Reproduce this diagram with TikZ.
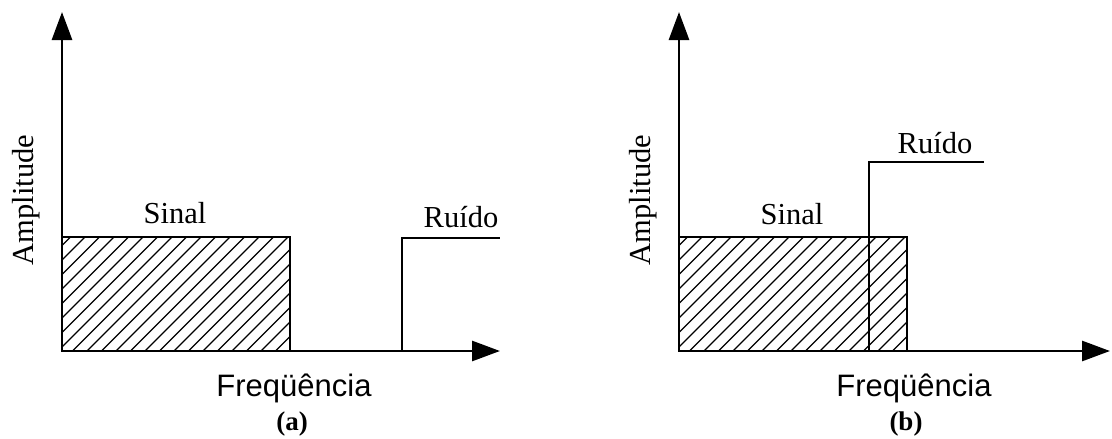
\documentclass[tikz,border=0pt]{standalone}
\usepackage{fontspec}
\setmainfont{Liberation Serif}
\newfontfamily\arialfont{Liberation Sans}
\usetikzlibrary{arrows.meta}
\begin{document}
\begin{tikzpicture}[x=1pt,y=-1pt,
  axis/.style={line width=2.8pt, -{Triangle[length=28pt,width=20pt]}},
  edge/.style={line width=2.6pt},
  hatchline/.style={line width=1.3pt},
  lbl/.style={font=\fontsize{30.5}{36}\selectfont, anchor=base, inner sep=0pt},
  sanslbl/.style={font=\arialfont\fontsize{31}{36}\selectfont, anchor=base, inner sep=0pt},
  captionlbl/.style={font=\bfseries\fontsize{27}{32}\selectfont, anchor=base, inner sep=0pt}]
\useasboundingbox (0,0) rectangle (1112,439);

% ---------- panel (a) ----------
\coordinate (oa) at (62,351);
\coordinate (ya) at (62,12);
\coordinate (xa) at (500,351);
\begin{scope}
  \clip (62,237) rectangle (290,351);
  \foreach \i in {0,...,25} \draw[hatchline] (62-120+\i*14.5,351) -- ++(130,-130);
\end{scope}
\draw[edge] (62,237) rectangle (290,351);
\coordinate (na0) at (402,351);
\coordinate (na1) at (402,238);
\coordinate (na2) at (500,238);
\draw[edge] (na0) -- (na1) -- (na2);
\draw[axis] (oa) -- (ya);
\draw[axis] (oa) -- (xa);
\node[lbl] (sinalA) at (175,223) {Sinal};
\node[lbl] (ruidoA) at (461,227) {Ruído};
\node[sanslbl] (freqA) at (294,396) {Freqüência};
\node[lbl, rotate=90] (ampA) at (33,200) {Amplitude};
\node[captionlbl] (capA) at (292,430) {(a)};

% ---------- panel (b) ----------
\coordinate (ob) at (679,351);
\coordinate (yb) at (679,12);
\coordinate (xb) at (1110,351);
\begin{scope}
  \clip (679,237) rectangle (907,351);
  \foreach \i in {0,...,25} \draw[hatchline] (679-120+\i*14.5,351) -- ++(130,-130);
\end{scope}
\draw[edge] (679,237) rectangle (907,351);
\coordinate (nb0) at (869,351);
\coordinate (nb1) at (869,162);
\coordinate (nb2) at (984,162);
\draw[edge] (nb0) -- (nb1) -- (nb2);
\draw[axis] (ob) -- (yb);
\draw[axis] (ob) -- (xb);
\node[lbl] (sinalB) at (792,224) {Sinal};
\node[lbl] (ruidoB) at (935,153) {Ruído};
\node[sanslbl] (freqB) at (914,396) {Freqüência};
\node[lbl, rotate=90] (ampB) at (650,200) {Amplitude};
\node[captionlbl] (capB) at (906,430) {(b)};
\end{tikzpicture}
\end{document}
